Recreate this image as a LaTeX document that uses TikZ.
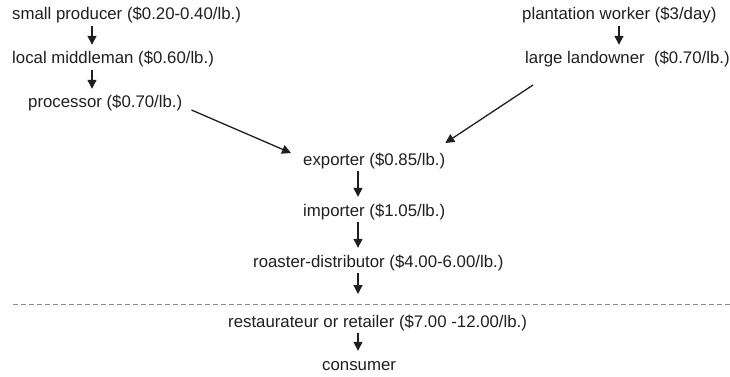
\documentclass[tikz,border=0pt]{standalone}
\usepackage{fontspec}
\setmainfont{Liberation Sans}
\usetikzlibrary{arrows.meta}
\begin{document}
\begin{tikzpicture}[x=1pt,y=-1pt,
  lbl/.style={anchor=base west, inner xsep=0pt, inner ysep=2pt,
    font=\fontsize{16.8}{20}\selectfont, text height=12pt, text depth=4pt, text=black!88},
  arr/.style={-{Triangle[length=9pt,width=9pt]}, line width=1.3pt, draw=black!88, shorten >=5pt},
  sep/.style={draw=black!45, line width=0.8pt, dash pattern=on 5pt off 3pt}]
\path[use as bounding box] (0,0) rectangle (730,377);
% left branch
\node[lbl] (sp) at (12,20) {small producer (\$0.20-0.40/lb.)};
\node[lbl] (lm) at (12,64) {local middleman (\$0.60/lb.)};
\node[lbl] (pr) at (28,108) {processor (\$0.70/lb.)};
% right branch
\node[lbl] (pw) at (522,20) {plantation worker (\$3/day)};
\node[lbl] (lo) at (525,64) {large landowner\ \ (\$0.70/lb.)};
% main chain
\node[lbl] (ex) at (303,165) {exporter (\$0.85/lb.)};
\node[lbl] (im) at (303,216) {importer (\$1.05/lb.)};
\node[lbl] (ro) at (253,267) {roaster-distributor (\$4.00-6.00/lb.)};
\node[lbl] (re) at (228,327) {restaurateur or retailer (\$7.00 -12.00/lb.)};
\node[lbl] (co) at (322,370) {consumer};
% axes for vertical arrows
\coordinate (va) at (92,0);
\coordinate (vb) at (619,0);
\coordinate (vc) at (358,0);
\coordinate (rt) at (358,294);
\coordinate (dl) at (13,304);
\coordinate (dr) at (730,304);
% connectors
\draw[arr] (sp.south -| va) -- (lm.north -| va);
\draw[arr] (lm.south -| va) -- (pr.north -| va);
\draw[arr] (pw.south -| vb) -- (lo.north -| vb);
\draw[arr] (ex.south -| vc) -- (im.north -| vc);
\draw[arr] (im.south -| vc) -- (ro.north -| vc);
\draw[arr, shorten >=0pt] (ro.south -| rt) -- (rt);
\draw[arr] (re.south -| vc) -- (co.north -| vc);
\draw[arr, shorten >=0pt] ([shift={(9,2)}]pr.base east) -- ([shift={(-12,-12)}]ex.base west);
\draw[arr, shorten >=0pt] ([shift={(8,21)}]lo.base west) -- ([shift={(0,-22)}]ex.base east);
% separator
\draw[sep] (dl) -- (dr);
\end{tikzpicture}
\end{document}
